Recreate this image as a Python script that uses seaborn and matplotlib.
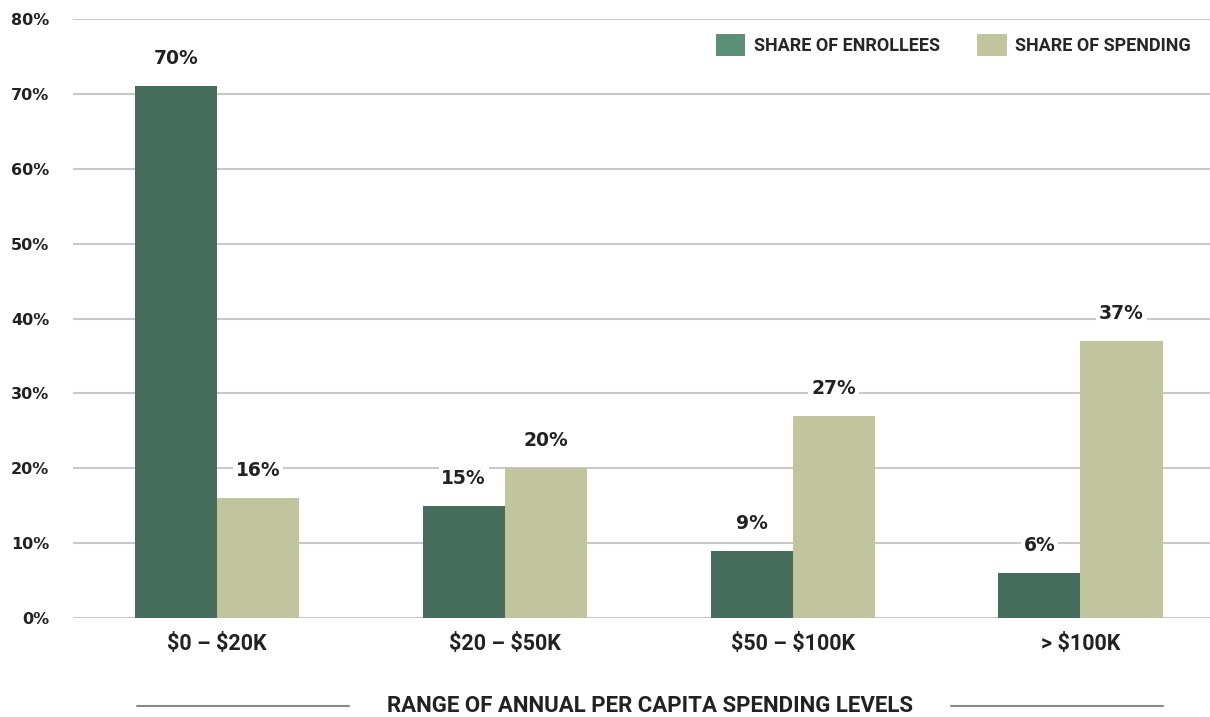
import matplotlib.pyplot as plt
import pandas as pd
import seaborn as sns
from matplotlib.lines import Line2D
from matplotlib.patches import Patch

categories = ["$0 – $20K", "$20 – $50K", "$50 – $100K", "> $100K"]
series = ["SHARE OF ENROLLEES", "SHARE OF SPENDING"]
enrollees = [71, 15, 9, 6]
spending = [16, 20, 27, 37]
enrollee_labels = ["70%", "15%", "9%", "6%"]
spending_labels = ["16%", "20%", "27%", "37%"]
y_ticks = [0, 10, 20, 30, 40, 50, 60, 70, 80]

bar_colors = ["#466c5e", "#c0c59d"]
legend_colors = ["#5b8f78", "#c0c59d"]
grid_color = "#c8c8c8"
text_color = "#222222"
label_font = "Roboto"

df = pd.DataFrame({
    "range": categories * 2,
    "series": [series[0]] * 4 + [series[1]] * 4,
    "value": enrollees + spending,
})

sns.set_theme(style="white")
plt.rcParams["font.family"] = ["DejaVu Sans"]
plt.rcParams["text.parse_math"] = False

fig = plt.figure(figsize=(12.1, 7.17), dpi=100)
ax = fig.add_axes([0.0603, 0.138, 0.9397, 0.8355])

sns.barplot(
    data=df, x="range", y="value", hue="series",
    palette=bar_colors, width=0.57, saturation=1, ax=ax, legend=False,
)

for container, labels in zip(ax.containers, [enrollee_labels, spending_labels]):
    for patch in container:
        patch.set_edgecolor("none")
    ax.bar_label(
        container, labels=labels, padding=13, fontsize=13.5, fontweight="bold",
        color=text_color,
        bbox=dict(facecolor="white", edgecolor="none", pad=2),
    )

ax.set_ylim(0, 80)
ax.set_xlim(-0.5, 3.45)
ax.set_yticks(y_ticks)
ax.set_yticklabels([f"{t}%" for t in y_ticks], fontsize=11.5, fontweight="bold",
                   color=text_color)
ax.yaxis.grid(True, color=grid_color, linewidth=1.5)
ax.set_axisbelow(True)
for spine in ax.spines.values():
    spine.set_visible(False)
ax.tick_params(axis="y", length=0, pad=17)
ax.tick_params(axis="x", length=0, pad=11)
ax.set_xticks(range(len(categories)))
ax.set_xticklabels(categories, fontsize=15.5, fontweight="bold", family=label_font,
                   color=text_color)
ax.set_xlabel("")
ax.set_ylabel("")

handles = [Patch(facecolor=c, edgecolor="none", label=s)
           for c, s in zip(legend_colors, series)]
fig.legend(
    handles=handles, loc="upper left", bbox_to_anchor=(0.578, 0.975), ncol=2,
    frameon=False, prop=dict(family=label_font, weight="bold", size=13),
    handlelength=1.65, handleheight=1.5, handletextpad=0.45, columnspacing=2.1,
)

fig.text(0.537, 0.0155, "RANGE OF ANNUAL PER CAPITA SPENDING LEVELS",
         ha="center", va="center", fontsize=16, fontweight="bold",
         family=label_font, color=text_color)
fig.add_artist(Line2D([137 / 1210, 349 / 1210], [0.0155, 0.0155],
                      color="#888888", linewidth=1.5))
fig.add_artist(Line2D([951 / 1210, 1163 / 1210], [0.0155, 0.0155],
                      color="#888888", linewidth=1.5))

fig.savefig("out.png", dpi=100)
